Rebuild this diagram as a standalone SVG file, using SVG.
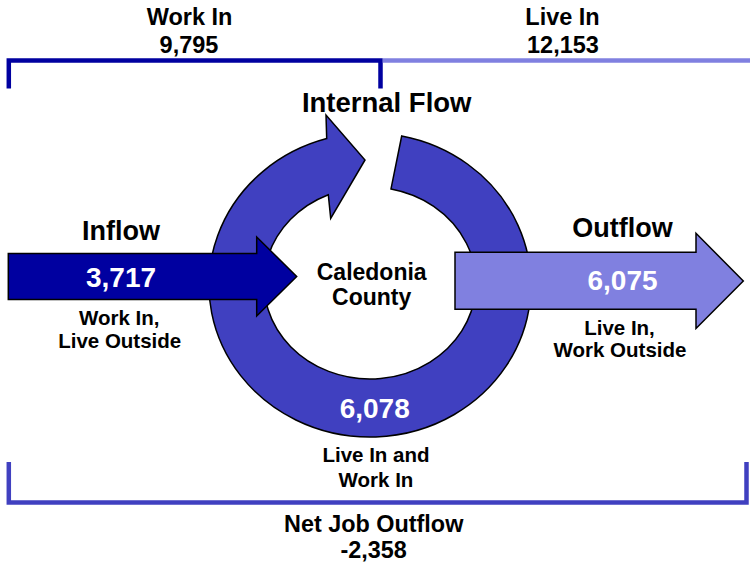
<svg xmlns="http://www.w3.org/2000/svg" width="750" height="566" viewBox="0 0 750 566">
<style>
text{font-family:"Liberation Sans",Arial,sans-serif;font-weight:bold;text-anchor:middle;fill:#000}
.w{fill:#fff}
.s{stroke:#000;stroke-width:1.5;stroke-linejoin:miter}
.br{fill:none;stroke-width:4.5;stroke-linecap:butt;stroke-linejoin:miter}
</style>
<rect width="750" height="566" fill="#fff"/>
<g id="connectors">
<polyline class="br" stroke="#0000A0" points="8.8,88.5 8.8,60.5 380.5,60.5 380.5,88.5"/>
<line class="br" stroke="#8080E0" x1="382.8" y1="60.5" x2="750" y2="60.5"/>
<polyline class="br" stroke="#4040C0" points="8.8,462 8.8,502.6 746.5,502.6 746.5,462"/>
</g>
<g id="labels-top">
<text x="189.5" y="25" font-size="23.5">Work In</text>
<text x="189" y="53.3" font-size="23.5">9,795</text>
<text x="562.5" y="25" font-size="23.5">Live In</text>
<text x="563" y="53.3" font-size="23.5">12,153</text>
<text x="386.7" y="111.5" font-size="27.5">Internal Flow</text>
</g>
<g id="internal">
<path class="s" fill="#4040C0" d="M401.7,136 A161 152 0 1 1 326.7,138.6 L326,115 L365,160 L330.7,218.3 L328.3,194.7 A106 96 0 1 0 391,188.9 Z"/>
<text class="w" x="374.7" y="418" font-size="28">6,078</text>
<text x="376" y="461.7" font-size="20.5">Live In and</text>
<text x="376" y="486.5" font-size="20.5">Work In</text>
</g>
<g id="inflow">
<path class="s" fill="#0000A0" d="M8.3,253.5 L256.7,253.5 L256.7,237 L296.7,276.5 L256.7,316 L256.7,299.5 L8.3,299.5 Z"/>
<text x="121" y="239.5" font-size="27">Inflow</text>
<text class="w" x="121" y="286.7" font-size="28">3,717</text>
<text x="119.3" y="325" font-size="20.5">Work In,</text>
<text x="119.7" y="348.3" font-size="20.5">Live Outside</text>
</g>
<g id="outflow">
<path class="s" fill="#8080E0" d="M455,252.3 L696,252.3 L696,233.3 L743.3,281 L696,328.5 L696,309.3 L455,309.3 Z"/>
<text x="622.5" y="236.7" font-size="27">Outflow</text>
<text class="w" x="622.5" y="290" font-size="28">6,075</text>
<text x="619.5" y="335" font-size="20.5">Live In,</text>
<text x="620" y="357.3" font-size="20.5">Work Outside</text>
</g>
<g id="county">
<text x="371.7" y="280" font-size="23">Caledonia</text>
<text x="371.7" y="305" font-size="23">County</text>
</g>
<g id="net">
<text x="373.7" y="531.7" font-size="23.4">Net Job Outflow</text>
<text x="373.7" y="558.3" font-size="23.4">-2,358</text>
</g>
</svg>
